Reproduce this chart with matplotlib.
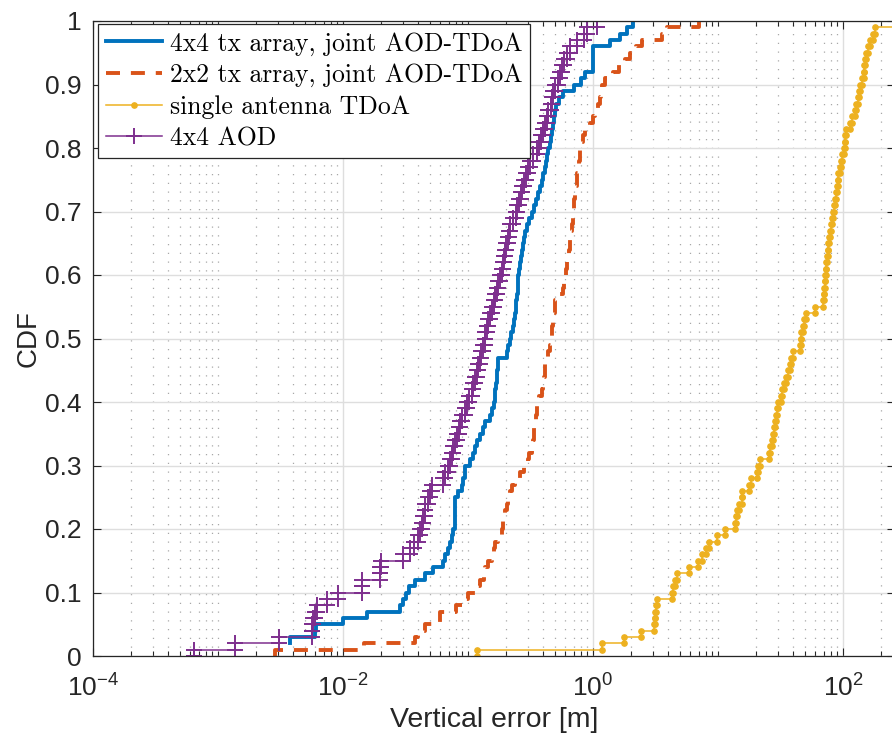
import numpy as np
import matplotlib
matplotlib.use("Agg")
import matplotlib.pyplot as plt
from matplotlib.ticker import FixedLocator, FixedFormatter, NullFormatter

# ---------------- data (sorted error samples) ----------------
series_labels = [
    "4x4 tx array, joint AOD-TDoA",
    "2x2 tx array, joint AOD-TDoA",
    "single antenna TDoA",
    "4x4 AOD",
]

joint_4x4 = [
    0.0, 0.0, 0.0038, 0.006, 0.0061, 0.0100, 0.0156, 0.0286, 0.030, 0.032,
    0.034, 0.0377, 0.0453, 0.0528, 0.0635, 0.066, 0.0697, 0.072, 0.074, 0.0763,
    0.078, 0.0787, 0.0787, 0.0787, 0.0787, 0.0838, 0.089, 0.092, 0.0946, 0.0946,
    0.104, 0.109, 0.114, 0.119, 0.125, 0.131, 0.137, 0.150, 0.155, 0.160,
    0.163, 0.165, 0.167, 0.170, 0.172, 0.174, 0.175, 0.204, 0.210, 0.215,
    0.222, 0.228, 0.233, 0.238, 0.240, 0.243, 0.246, 0.249, 0.251, 0.253,
    0.256, 0.260, 0.264, 0.269, 0.274, 0.280, 0.286, 0.295, 0.310, 0.324,
    0.335, 0.347, 0.360, 0.377, 0.390, 0.398, 0.410, 0.420, 0.430, 0.440,
    0.450, 0.460, 0.470, 0.480, 0.490, 0.500, 0.510, 0.530, 0.580, 0.700,
    0.800, 0.860, 1.00, 1.00, 1.00, 1.00, 1.37, 1.64, 1.86, 2.10,
]

joint_2x2 = [
    0.00286, 0.0146, 0.0377, 0.040, 0.0453, 0.0597, 0.060, 0.080, 0.0918, 0.100,
    0.114, 0.125, 0.135, 0.137, 0.145, 0.155, 0.160, 0.164, 0.175, 0.186,
    0.190, 0.192, 0.198, 0.204, 0.210, 0.217, 0.225, 0.238, 0.260, 0.280,
    0.304, 0.310, 0.324, 0.330, 0.335, 0.340, 0.344, 0.350, 0.355, 0.355,
    0.370, 0.390, 0.400, 0.405, 0.410, 0.413, 0.430, 0.440, 0.450, 0.460,
    0.468, 0.470, 0.480, 0.490, 0.497, 0.500, 0.540, 0.580, 0.590, 0.600,
    0.610, 0.617, 0.630, 0.640, 0.650, 0.655, 0.670, 0.680, 0.690, 0.695,
    0.700, 0.710, 0.720, 0.730, 0.740, 0.750, 0.760, 0.770, 0.780, 0.787,
    0.810, 0.830, 0.860, 0.946, 1.00, 1.04, 1.10, 1.13, 1.15, 1.17,
    1.25, 1.45, 1.60, 1.80, 1.98, 2.20, 2.45, 3.55, 3.90, 7.00,
]

single_tdoa = [
    0.118, 1.19, 1.77, 2.40, 3.09, 3.12, 3.15, 3.20, 3.28, 4.25,
    4.40, 4.55, 4.70, 5.90, 6.95, 7.50, 8.00, 8.50, 9.75, 11.4,
    13.7, 14.0, 14.3, 14.8, 15.5, 15.5, 17.8, 18.2, 20.4, 20.8,
    21.7, 25.7, 26.2, 26.8, 27.5, 28.0, 28.5, 29.0, 29.5, 30.0,
    31.8, 32.5, 33.5, 35.0, 36.0, 37.5, 38.5, 39.5, 45.6, 46.0,
    46.5, 48.0, 49.0, 51.0, 59.7, 69.5, 70.0, 71.0, 71.5, 72.0,
    72.5, 73.0, 74.8, 75.5, 76.0, 77.0, 78.0, 79.5, 81.0, 83.0,
    84.7, 86.0, 87.5, 89.0, 90.5, 92.0, 94.0, 96.0, 98.0, 102.0,
    103.0, 104.0, 106.0, 114.0, 118.0, 125.0, 128.0, 132.0, 135.0, 138.0,
    141.0, 146.0, 148.0, 151.0, 153.0, 158.0, 164.0, 173.0, 180.0, 400.0,
]

aod_4x4 = [
    0.00064, 0.00137, 0.0031, 0.0056, 0.0057, 0.0058, 0.0060, 0.0062, 0.0074, 0.0092,
    0.0141, 0.0141, 0.0198, 0.0198, 0.0200, 0.0304, 0.0344, 0.0370, 0.0400, 0.0413,
    0.0427, 0.0440, 0.0450, 0.0453, 0.0480, 0.0500, 0.0513, 0.0635, 0.0660, 0.0690,
    0.0718, 0.0740, 0.0760, 0.0787, 0.0810, 0.0840, 0.0863, 0.0900, 0.0940, 0.0977,
    0.102, 0.107, 0.110, 0.113, 0.117, 0.120, 0.124, 0.128, 0.132, 0.136,
    0.138, 0.141, 0.145, 0.150, 0.155, 0.160, 0.165, 0.170, 0.175, 0.180,
    0.186, 0.190, 0.195, 0.198, 0.203, 0.208, 0.213, 0.217, 0.230, 0.240,
    0.245, 0.255, 0.265, 0.270, 0.280, 0.290, 0.300, 0.313, 0.330, 0.355,
    0.370, 0.385, 0.400, 0.410, 0.426, 0.440, 0.460, 0.470, 0.482, 0.500,
    0.520, 0.540, 0.562, 0.590, 0.620, 0.655, 0.750, 0.850, 0.890, 1.07,
]

ytick_values = [0, 0.1, 0.2, 0.3, 0.4, 0.5, 0.6, 0.7, 0.8, 0.9, 1.0]
ytick_labels = ["0", "0.1", "0.2", "0.3", "0.4", "0.5", "0.6", "0.7", "0.8", "0.9", "1"]
xtick_values = [1e-4, 1e-2, 1e0, 1e2]
xtick_labels = [r"$\mathregular{10^{-4}}$", r"$\mathregular{10^{-2}}$",
                r"$\mathregular{10^{0}}$", r"$\mathregular{10^{2}}$"]
x_label = "Vertical error [m]"
y_label = "CDF"

# ---------------- styling ----------------
colors = ["#0072BD", "#D95319", "#EDB120", "#7E2F8E"]
plt.rcParams["font.family"] = ["Liberation Sans", "DejaVu Sans"]
plt.rcParams["mathtext.fontset"] = "custom"
plt.rcParams["mathtext.rm"] = "Liberation Sans"

W, H = 892, 744
fig = plt.figure(figsize=(W / 100, H / 100), dpi=100)
ax_left_px, ax_right_px, ax_bottom_px, ax_top_px = 93, 895, 656, 21
dec_px = 125
x_lo = 1e-4
x_hi = x_lo * 10 ** ((ax_right_px - ax_left_px) / dec_px)
ax_w_px = ax_right_px - ax_left_px
ax = fig.add_axes([ax_left_px / W, (H - ax_bottom_px) / H,
                   ax_w_px / W, (ax_bottom_px - ax_top_px) / H])
ax.set_xscale("log", nonpositive="mask")


def stair(samples):
    s = np.sort(np.asarray(samples, dtype=float))
    n = len(s)
    xs = np.repeat(s, 2)
    ys = np.ravel(np.column_stack([np.arange(n) / n, np.arange(1, n + 1) / n]))
    return xs, ys


x, y = stair(joint_4x4)
ax.plot(x, y, color=colors[0], lw=2.8, label=series_labels[0])
x, y = stair(joint_2x2)
ax.plot(x, y, color=colors[1], lw=2.8, dashes=(3.6, 2.8), label=series_labels[1])
x, y = stair(single_tdoa)
ax.plot(x, y, color=colors[2], lw=1.1, marker="o", ms=3.8, label=series_labels[2])
x, y = stair(aod_4x4)
ax.plot(x, y, color=colors[3], lw=1.1, marker="+", ms=12, mew=1.4, label=series_labels[3])

ax.set_xlim(x_lo, x_hi)
ax.set_ylim(0, 1)

ax.xaxis.set_major_locator(FixedLocator(xtick_values))
ax.xaxis.set_major_formatter(FixedFormatter(xtick_labels))
minor = [k * 10.0 ** e for e in range(-5, 4) for k in range(1, 10)
         if not (k == 1 and e % 2 == 0)]
ax.xaxis.set_minor_locator(FixedLocator(minor))
ax.xaxis.set_minor_formatter(NullFormatter())
ax.yaxis.set_major_locator(FixedLocator(ytick_values))
ax.yaxis.set_major_formatter(FixedFormatter(ytick_labels))

ax.set_axisbelow(True)
ax.grid(which="major", color="#dedede", lw=1.0, ls="-")
ax.grid(which="minor", axis="x", color="#a8a8a8", lw=0.9, ls=(0, (1, 6)))

ax.tick_params(which="both", direction="in", top=True, right=True, colors="#262626",
               labelsize=19, width=0.8)
ax.tick_params(which="major", length=6)
ax.tick_params(which="minor", length=3.5)
ax.tick_params(axis="x", which="major", pad=13)
ax.tick_params(axis="y", which="major", pad=8.5)
for sp in ax.spines.values():
    sp.set_color("#262626")
    sp.set_linewidth(0.9)

ax.set_xlabel(x_label, fontsize=20.5, color="#262626")
ax.set_ylabel(y_label, fontsize=20, color="#262626")
ax.xaxis.set_label_coords((494 - ax_left_px) / ax_w_px,
                          -(707 - ax_bottom_px) / (ax_bottom_px - ax_top_px))
ax.yaxis.set_label_coords((42 - ax_left_px) / ax_w_px, 0.5)

leg = ax.legend(loc="upper left",
                bbox_to_anchor=((98 - ax_left_px) / ax_w_px,
                                1 - (24 - ax_top_px) / (ax_bottom_px - ax_top_px)),
                borderaxespad=0, fancybox=False, framealpha=1, edgecolor="#262626",
                prop={"family": "cmr10", "size": 18.5}, numpoints=1,
                handlelength=2.2, handletextpad=0.3, borderpad=0.3, labelspacing=0.3)
leg.get_frame().set_linewidth(0.9)

fig.savefig("out.png", dpi=100)
